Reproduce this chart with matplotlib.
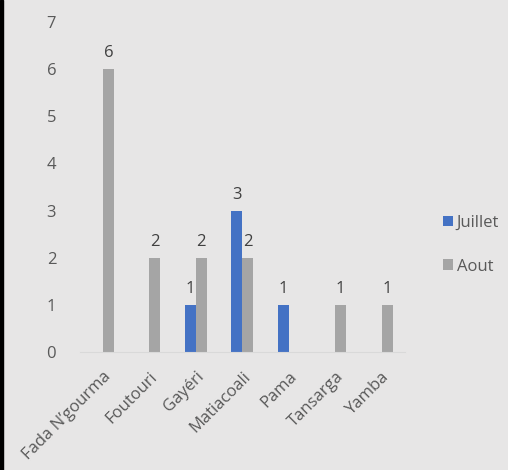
import numpy as np
import matplotlib.pyplot as plt
from matplotlib.patches import Rectangle

communes = ["Fada N\u2019gourma", "Foutouri", "Gay\u00e9ri", "Matiacoali", "Pama", "Tansarga", "Yamba"]
juillet = [0, 0, 1, 3, 1, 0, 0]
aout = [6, 2, 2, 2, 0, 1, 1]

bg = "#e7e6e6"
txt = "#595959"
plt.rcParams['font.family'] = ['Open Sans', 'DejaVu Sans']

fig = plt.figure(figsize=(5.08, 4.70), dpi=100, facecolor=bg)
ax = fig.add_axes([0.157, 0.251, 0.640, 0.702])
ax.set_facecolor(bg)

x = np.arange(len(communes))
w = 0.236
b1 = ax.bar(x - w / 2, juillet, w, color="#4472c4", label="Juillet")
b2 = ax.bar(x + w / 2, aout, w, color="#a5a5a5", label="Aout")

for bars, vals in [(b1, juillet), (b2, aout)]:
    for r, v in zip(bars, vals):
        if v:
            ax.text(r.get_x() + r.get_width() / 2, v + 0.17, str(v), ha="center",
                    va="bottom", fontsize=12, color="#404040")

ax.set_xlim(-0.5, len(communes) - 0.5)
ax.set_ylim(0, 7)
ax.set_yticks(range(8))
ax.set_xticks(x)
ax.set_xticklabels(communes, rotation=45, ha="right", rotation_mode="anchor")
ax.tick_params(length=0, labelsize=12, colors=txt)
ax.tick_params(axis="y", pad=17)
ax.tick_params(axis="x", pad=12)
for s in ["top", "right", "left"]:
    ax.spines[s].set_visible(False)
ax.spines["bottom"].set_color("#d9d9d9")

ax.legend(loc="center left", bbox_to_anchor=(1.07, 0.325), frameon=False,
          fontsize=12, labelcolor=txt, handlelength=0.6, handleheight=0.6,
          handletextpad=0.25, labelspacing=1.65)

fig.patches.append(Rectangle((0, 0), 3 / 508, 1, transform=fig.transFigure,
                             color="black", zorder=10))

fig.savefig("out.png", dpi=100, facecolor=bg)
